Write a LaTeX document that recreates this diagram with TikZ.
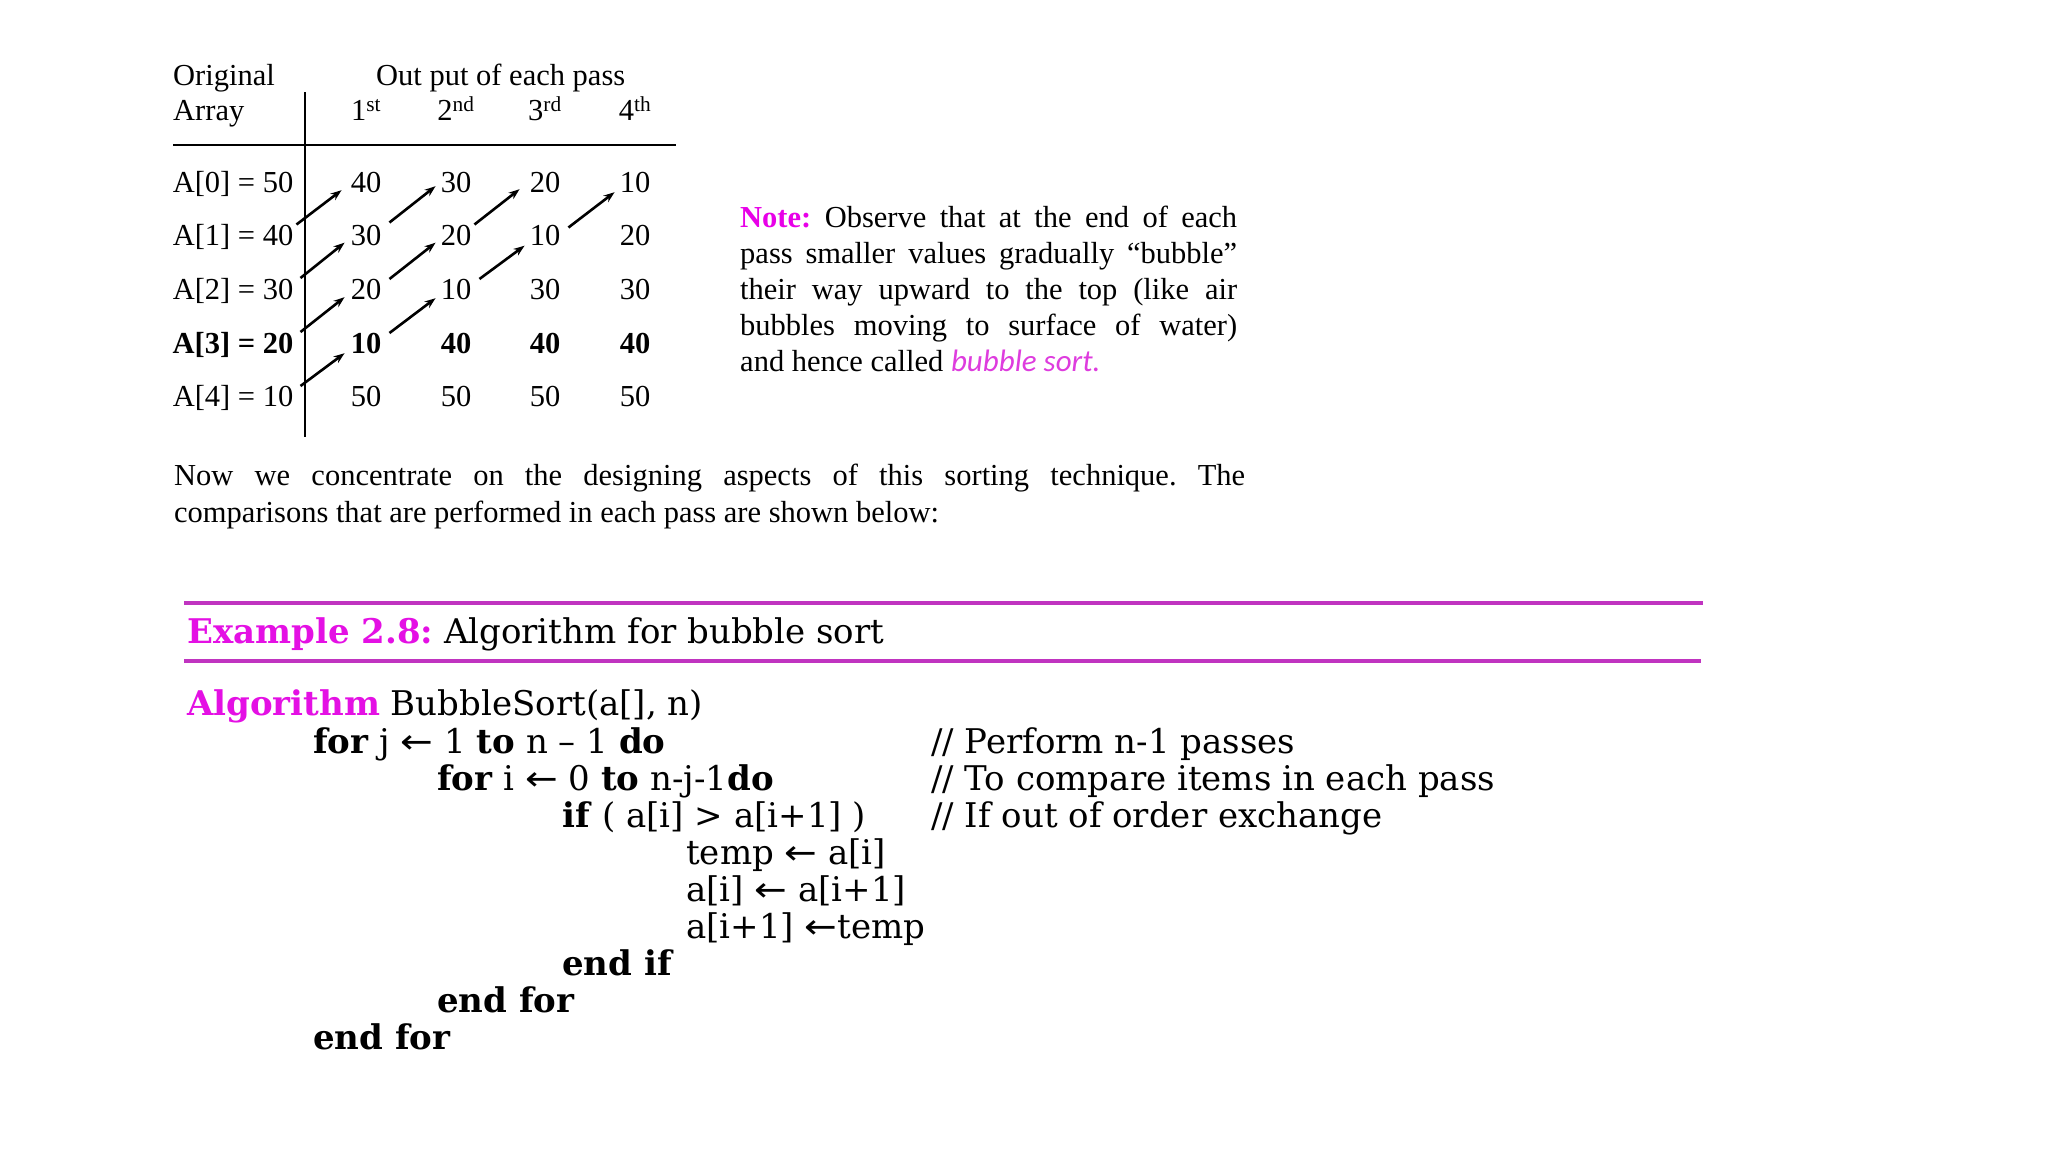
\documentclass[tikz,border=0pt]{standalone}
\usepackage{fontspec}
\setmainfont{Liberation Serif}
\newfontfamily\algfont{DejaVu Serif}
\newfontfamily\bubfont{Carlito}
\newfontfamily\arrowfont{DejaVu Sans}
\usetikzlibrary{arrows.meta}
\definecolor{notemag}{RGB}{232,0,232}
\definecolor{bubmag}{RGB}{222,60,222}
\definecolor{exmag}{RGB}{228,16,228}
\definecolor{rulemag}{RGB}{192,52,192}
\newcommand{\algarr}{\mbox{\scalebox{1.15}[1]{\arrowfont ←}}}
\frenchspacing
\tikzset{
  txt/.style={inner sep=0pt, anchor=base west, font=\fontsize{30.5}{36}\selectfont},
  cell/.style={inner sep=0pt, anchor=base, text height=20pt, text depth=0pt, font=\fontsize{30.5}{36}\selectfont},
  lcell/.style={cell, anchor=base east},
  alg/.style={inner sep=0pt, anchor=base west, font=\algfont\fontsize{34}{37}\selectfont},
  swap/.style={line width=2.6pt, -{Stealth[length=11pt,width=8pt]}},
  tblrule/.style={line width=2.8pt},
  magrule/.style={line width=3.2pt, draw=rulemag}
}
\begin{document}
\begin{tikzpicture}[x=1pt,y=-1pt]
\useasboundingbox (0,0) rectangle (2048,1152);
\fill[white] (0,0) rectangle (2048,1152);

% ---------- table header ----------
\node[txt] (horig) at (173,85.5) {Original};
\node[txt] (harr) at (173,120.5) {Array};
\node[txt] (hout) at (376,85.5) {Out put of each pass};
\node[cell] (h1) at (366,120.5) {1\textsuperscript{st}};
\node[cell] (h2) at (456,120.5) {2\textsuperscript{nd}};
\node[cell] (h3) at (545,120.5) {3\textsuperscript{rd}};
\node[cell] (h4) at (635,120.5) {4\textsuperscript{th}};
\coordinate (vtop) at (305,92);
\coordinate (vbot) at (305,437);
\coordinate (hl) at (173,145);
\coordinate (hr) at (675.5,145);
\draw[tblrule] (vtop) -- (vbot);
\draw[tblrule] (hl) -- (hr);

% ---------- table body ----------
\node[lcell] (c0r0) at (293.5,192) {A[0] = 50};
\node[lcell] (c0r1) at (293.5,245.5) {A[1] = 40};
\node[lcell] (c0r2) at (293.5,299) {A[2] = 30};
\node[lcell,font=\fontsize{30.5}{36}\selectfont\bfseries] (c0r3) at (293.5,353) {A[3] = 20};
\node[lcell] (c0r4) at (293.5,406) {A[4] = 10};

\node[cell] (c1r0) at (366,192) {40};
\node[cell] (c1r1) at (366,245.5) {30};
\node[cell] (c1r2) at (366,299) {20};
\node[cell,font=\fontsize{30.5}{36}\selectfont\bfseries] (c1r3) at (366,353) {10};
\node[cell] (c1r4) at (366,406) {50};

\node[cell] (c2r0) at (456,192) {30};
\node[cell] (c2r1) at (456,245.5) {20};
\node[cell] (c2r2) at (456,299) {10};
\node[cell,font=\fontsize{30.5}{36}\selectfont\bfseries] (c2r3) at (456,353) {40};
\node[cell] (c2r4) at (456,406) {50};

\node[cell] (c3r0) at (545,192) {20};
\node[cell] (c3r1) at (545,245.5) {10};
\node[cell] (c3r2) at (545,299) {30};
\node[cell,font=\fontsize{30.5}{36}\selectfont\bfseries] (c3r3) at (545,353) {40};
\node[cell] (c3r4) at (545,406) {50};

\node[cell] (c4r0) at (635,192) {10};
\node[cell] (c4r1) at (635,245.5) {20};
\node[cell] (c4r2) at (635,299) {30};
\node[cell,font=\fontsize{30.5}{36}\selectfont\bfseries] (c4r3) at (635,353) {40};
\node[cell] (c4r4) at (635,406) {50};

% swap arrows
\draw[swap] ([xshift=3pt,yshift=11pt]c0r1.east) -- ([xshift=-9pt,yshift=2pt]c1r0.south west);
\draw[swap] ([xshift=7pt,yshift=11pt]c0r2.east) -- ([xshift=-6pt,yshift=3pt]c1r1.south west);
\draw[swap] ([xshift=7pt,yshift=11pt]c0r3.east) -- ([xshift=-6pt,yshift=2pt]c1r2.south west);
\draw[swap] ([xshift=7pt,yshift=10pt]c0r4.east) -- ([xshift=-6pt,yshift=0pt]c1r3.south west);

\draw[swap] ([xshift=8pt,yshift=13pt]c1r1.east) -- ([xshift=-5pt,yshift=6pt]c2r0.south west);
\draw[swap] ([xshift=8pt,yshift=10pt]c1r2.east) -- ([xshift=-5pt,yshift=3pt]c2r1.south west);
\draw[swap] ([xshift=8pt,yshift=10pt]c1r3.east) -- ([xshift=-5pt,yshift=1pt]c2r2.south west);

\draw[swap] ([xshift=3pt,yshift=11pt]c2r1.east) -- ([xshift=-10pt,yshift=3pt]c3r0.south west);
\draw[swap] ([xshift=8pt,yshift=10pt]c2r2.east) -- ([xshift=-5pt,yshift=0pt]c3r1.south west);

\draw[swap] ([xshift=8pt,yshift=8pt]c3r1.east) -- ([xshift=-5pt,yshift=0pt]c4r0.south west);

% ---------- note ----------
\node[txt] (note1) at (740,227) {\makebox[497pt][s]{{\color{notemag}\bfseries Note:} Observe that at the end of each}};
\node[txt] (note2) at (740,263) {\makebox[497pt][s]{pass smaller values gradually “bubble”}};
\node[txt] (note3) at (740,299) {\makebox[497pt][s]{their way upward to the top (like air}};
\node[txt] (note4) at (740,335) {\makebox[497pt][s]{bubbles moving to surface of water)}};
\node[txt] (note5) at (740,371) {and hence called {\bubfont\itshape\color{bubmag}\fontsize{31}{36}\selectfont bubble sort.}};

% ---------- paragraph ----------
\node[txt] (para1) at (174,485) {\makebox[1071pt][s]{Now we concentrate on the designing aspects of this sorting technique. The}};
\node[txt] (para2) at (174,522) {comparisons that are performed in each pass are shown below:};

% ---------- example box ----------
\coordinate (rt1) at (184,603);
\coordinate (rt2) at (1703,603);
\coordinate (rb1) at (184,661);
\coordinate (rb2) at (1701,661);
\draw[magrule] (rt1) -- (rt2);
\draw[magrule] (rb1) -- (rb2);
\node[alg] (ex) at (187,643) {{\color{exmag}\bfseries Example 2.8:} Algorithm for bubble sort};

% ---------- algorithm ----------
\node[alg] (a0) at (187,715) {{\color{exmag}\bfseries Algorithm} BubbleSort(a[], n)};
\node[alg] (a1) at (313,753) {\textbf{for} j \algarr{} 1 \textbf{to} n – 1 \textbf{do}};
\node[alg] (a2) at (437,790) {\textbf{for} i \algarr{} 0 \textbf{to} n-j-1\textbf{do}};
\node[alg] (a3) at (562,827) {\textbf{if} ( a[i] > a[i+1] )};
\node[alg] (a4) at (686,864) {temp \algarr{} a[i]};
\node[alg] (a5) at (686,901) {a[i] \algarr{} a[i+1]};
\node[alg] (a6) at (686,938) {a[i+1] \algarr{}temp};
\node[alg] (a7) at (562,975) {\textbf{end if}};
\node[alg] (a8) at (437,1012) {\textbf{end for}};
\node[alg] (a9) at (313,1049) {\textbf{end for}};

\node[alg] (k1) at (931,753) {// Perform n-1 passes};
\node[alg] (k2) at (931,790) {// To compare items in each pass};
\node[alg] (k3) at (931,827) {// If out of order exchange};
\end{tikzpicture}
\end{document}
